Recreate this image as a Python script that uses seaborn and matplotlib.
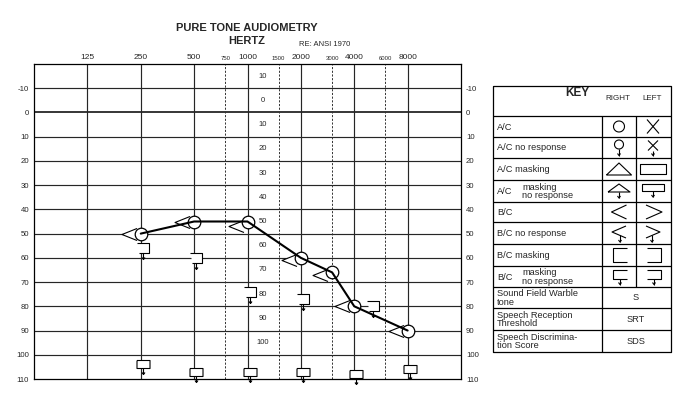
import numpy as np
import pandas as pd
import matplotlib
matplotlib.use("Agg")
import matplotlib.pyplot as plt
import seaborn as sns
from matplotlib.path import Path
from matplotlib.transforms import offset_copy
from matplotlib.ticker import NullLocator

sns.set_style("white")
plt.rcParams["font.family"] = ["Liberation Sans", "DejaVu Sans"]

# ---------------- data ----------------
freq_ticks = [125, 250, 500, 1000, 2000, 4000, 8000]
inter_ticks = [750, 1500, 3000, 6000]
db_ticks = list(range(-10, 111, 10))
mid_scale_pos = list(range(-15, 96, 10))
mid_scale_labels = ["10", "0", "10", "20", "30", "40", "50", "60", "70", "80", "90", "100"]

ac_right_freq = [250, 500, 1000, 2000, 3000, 4000, 8000]
ac_right_db = [50, 45, 45, 60, 66, 80, 90]
bc_right_freq = [250, 500, 1000, 2000, 3000, 4000, 8000]
bc_right_db = [50, 45, 47, 61, 67, 80, 90]
bc_left_mask_nr_freq = [250, 500, 1000, 2000]
bc_left_mask_nr_db = [56, 60, 74, 77]
bc_left_mask_nr_freq_b = [4000]
bc_left_mask_nr_db_b = [80]
ac_left_mask_nr_freq = [250, 500, 1000, 2000, 4000, 8000]
ac_left_mask_nr_db = [104, 107, 107, 107, 108, 106]

key_row_labels = ["A/C", "A/C no response", "A/C masking", None, "B/C",
                  "B/C no response", "B/C masking", None,
                  "Sound Field Warble\ntone", "Speech Reception\nThreshold",
                  "Speech Discrimina-\ntion Score"]
key_merged_labels = ["S", "SRT", "SDS"]

# ---------------- figure ----------------
W, H, DPI = 689, 394, 100
fig = plt.figure(figsize=(W / DPI, H / DPI), dpi=DPI, facecolor="white")


def px_box(l, t, r, b):
    return [l / W, 1 - b / H, (r - l) / W, (b - t) / H]


ax = fig.add_axes(px_box(34, 64, 461, 379))
ax.set_xscale("log", base=2)
ax.set_xlim(62.5, 16000)
ax.set_ylim(110, -20)
ax.set_facecolor("white")

GRID = "#262626"
for d in range(-10, 101, 10):
    ax.axhline(d, color=GRID, lw=1.3 if d == 0 else 0.85, zorder=1)
for f in freq_ticks:
    ax.axvline(f, color=GRID, lw=0.85, zorder=1)
for f in inter_ticks:
    ax.axvline(f, color="#333333", lw=0.7, ls=(0, (2.2, 1.6)), zorder=1)

for s in ax.spines.values():
    s.set_visible(True)
    s.set_color("black")
    s.set_linewidth(0.9)

ax.set_yticks(db_ticks)
ax.set_yticklabels([str(v) for v in db_ticks])
ax.tick_params(axis="y", left=True, right=True, labelleft=True, labelright=True,
               length=0, labelsize=5.6, pad=3.5)
xt = freq_ticks + inter_ticks
ax.set_xticks(xt)
ax.set_xticklabels([str(v) for v in xt])
ax.xaxis.set_minor_locator(NullLocator())
ax.yaxis.set_minor_locator(NullLocator())
ax.xaxis.tick_top()
ax.tick_params(axis="x", length=0, pad=2, labelsize=6)
for lab, v in zip(ax.get_xticklabels(), xt):
    if v in inter_ticks:
        lab.set_fontsize(4.3)
ax.set_xlabel("")
ax.set_ylabel("")

for p, l in zip(mid_scale_pos, mid_scale_labels):
    ax.text(1217, p, l, ha="center", va="center", fontsize=5.5, zorder=2)

# titles
fig.text(247 / W, 1 - 28 / H, "PURE TONE AUDIOMETRY", ha="center", va="center",
         fontsize=8, fontweight="bold")
fig.text(247 / W, 1 - 40.5 / H, "HERTZ", ha="center", va="center",
         fontsize=8, fontweight="bold")
fig.text(325 / W, 1 - 44 / H, "RE: ANSI 1970", ha="center", va="center", fontsize=5.5)


# ---------------- marker shapes (pixel units, y up) ----------------
def make_path(polys):
    verts, codes = [], []
    for poly in polys:
        verts += list(poly)
        codes += [Path.MOVETO] + [Path.LINETO] * (len(poly) - 1)
    return Path(verts, codes)


def ms_for(polys):
    m = max(abs(c) for poly in polys for p in poly for c in p)
    return 2 * m * 72 / DPI


def arrow(x0, y0, y1, hw=1.5, hh=2.0):
    return [[(x0, y0), (x0, y1)], [(x0 - hw, y1 + hh), (x0, y1), (x0 + hw, y1 + hh)]]


CHEV = [[(7.5, 6), (-7.5, 0), (7.5, -6)]]
RECT_NR = [[(-6.5, 4), (6.5, 4), (6.5, -4), (-6.5, -4), (-6.5, 4)]] + arrow(0, -4, -10)
BRKT_NR = [[(-6, 5), (6, 5), (6, -5), (-4, -5)]] + arrow(0, -5, -11)

# connecting line (seaborn)
sns.lineplot(x=ac_right_freq, y=ac_right_db, ax=ax, color="black", lw=1.5,
             sort=False, legend=False, zorder=5)
# right A/C circles
sns.scatterplot(x=ac_right_freq, y=ac_right_db, ax=ax, marker="o", s=82,
                facecolor="white", edgecolor="black", linewidth=0.9, zorder=4,
                legend=False)
# right B/C chevrons
tr_left = offset_copy(ax.transData, fig=fig, x=-12, y=0, units="dots")
ax.plot(bc_right_freq, bc_right_db, ls="none", marker=make_path(CHEV),
        ms=ms_for(CHEV), mfc="white", mec="black", mew=0.8, transform=tr_left, zorder=3)
# left B/C masking no response
tr_r1 = offset_copy(ax.transData, fig=fig, x=2, y=0, units="dots")
ax.plot(bc_left_mask_nr_freq, bc_left_mask_nr_db, ls="none", marker=make_path(BRKT_NR),
        ms=ms_for(BRKT_NR), mfc="white", mec="black", mew=0.8, transform=tr_r1, zorder=3)
tr_r2 = offset_copy(ax.transData, fig=fig, x=19, y=0, units="dots")
ax.plot(bc_left_mask_nr_freq_b, bc_left_mask_nr_db_b, ls="none", marker=make_path(BRKT_NR),
        ms=ms_for(BRKT_NR), mfc="white", mec="black", mew=0.8, transform=tr_r2, zorder=3)
# left A/C masking no response
ax.plot(ac_left_mask_nr_freq, ac_left_mask_nr_db, ls="none", marker=make_path(RECT_NR),
        ms=ms_for(RECT_NR), mfc="white", mec="black", mew=0.8, transform=tr_r1, zorder=3,
        clip_on=False)

# ---------------- key table ----------------
kax = fig.add_axes(px_box(493, 86, 671, 352))
kax.set_xlim(493, 671)
kax.set_ylim(352, 86)
kax.axis("off")
LW = 0.9
KL, KR, KT, KB = 493, 671, 86, 352
C1, C2 = 602, 636
rows = [116, 137, 158, 180, 202, 222, 244, 266, 287, 308, 330, 352]


def kline(xs, ys, lw=LW):
    kax.plot(xs, ys, color="black", lw=lw, clip_on=False, solid_capstyle="butt")


kline([KL, KR, KR, KL, KL], [KT, KT, KB, KB, KT])
for y in rows[:-1]:
    kline([KL, KR], [y, y])
kline([C1, C1], [rows[0], KB])
kline([C2, C2], [rows[0], rows[8]])

kax.text(577, 93, "KEY", ha="center", va="center", fontsize=8.5, fontweight="bold")
kax.text(618, 99, "RIGHT", ha="center", va="center", fontsize=5.8)
kax.text(652, 99, "LEFT", ha="center", va="center", fontsize=5.8)

FS = 6.7
for i, lab in enumerate(key_row_labels):
    yc = (rows[i] + rows[i + 1]) / 2
    if lab is None:
        kax.text(497, yc + 0.5, "A/C" if i == 3 else "B/C",
                 ha="left", va="center", fontsize=FS)
        kax.text(522, yc - 4, "masking", ha="left", va="center", fontsize=FS)
        kax.text(522, yc + 4.5, "no response", ha="left", va="center", fontsize=FS)
    else:
        kax.text(497, yc + 0.5, lab, ha="left", va="center", fontsize=FS, linespacing=0.9)
for i, lab in enumerate(key_merged_labels):
    yc = (rows[8 + i] + rows[9 + i]) / 2
    kax.text(636, yc + 0.5, lab, ha="center", va="center", fontsize=FS)


def draw_sym(polys, cx, cy, lw=0.8):
    for poly in polys:
        kline([cx + p[0] for p in poly], [cy - p[1] for p in poly], lw=lw)


def circle(r, cy=0.0, n=40):
    t = np.linspace(0, 2 * np.pi, n)
    return [list(zip(r * np.cos(t), cy + r * np.sin(t)))]


XR, XL = 619, 653
yc = [(rows[i] + rows[i + 1]) / 2 for i in range(8)]
# A/C
draw_sym(circle(5.5), XR, yc[0])
draw_sym([[(-6, 7), (6, -7)], [(-6, -7), (6, 7)]], XL, yc[0])
# A/C no response
draw_sym(circle(4.5, 3) + arrow(0, -1.5, -8), XR, yc[1])
draw_sym([[(-5, 7), (5, -3)], [(-5, -3), (5, 7)]] + arrow(0, -3, -8), XL, yc[1])
# A/C masking
draw_sym([[(-12.5, -6), (0, 6), (12.5, -6), (-12.5, -6)]], XR, yc[2])
draw_sym([[(-13, -5), (13, -5), (13, 5), (-13, 5), (-13, -5)]], XL, yc[2])
# A/C masking no response
draw_sym([[(-11, -1), (0, 7), (11, -1), (-11, -1)]] + arrow(0, -1, -7), XR, yc[3])
draw_sym([[(-11, 0), (11, 0), (11, 7), (-11, 7), (-11, 0)]] + arrow(0, 0, -6), XL, yc[3])
# B/C
draw_sym([[(7.5, 7), (-7.5, 0), (7.5, -7)]], XR, yc[4])
draw_sym([[(-8, 7), (8, 0), (-8, -7)]], XL + 1, yc[4])
# B/C no response
draw_sym([[(7, 7), (-7, 1), (7, -5)]] + arrow(1, -2, -9), XR, yc[5])
draw_sym([[(-7, 7), (7, 1), (-7, -5)]] + arrow(-1, -2, -9), XL, yc[5])
# B/C masking
draw_sym([[(7, 7), (-7, 7), (-7, -7), (7, -7)]], XR + 1, yc[6])
draw_sym([[(-7, 7), (7, 7), (7, -7), (-7, -7)]], XL + 1, yc[6])
# B/C masking no response
draw_sym([[(7, 7), (-7, 7), (-7, -2), (7, -2)]] + arrow(0, -2, -8), XR + 1, yc[7])
draw_sym([[(-7, 7), (7, 7), (7, -2), (-7, -2)]] + arrow(0, -2, -8), XL + 1, yc[7])

fig.savefig("out.png", dpi=DPI, facecolor="white")
